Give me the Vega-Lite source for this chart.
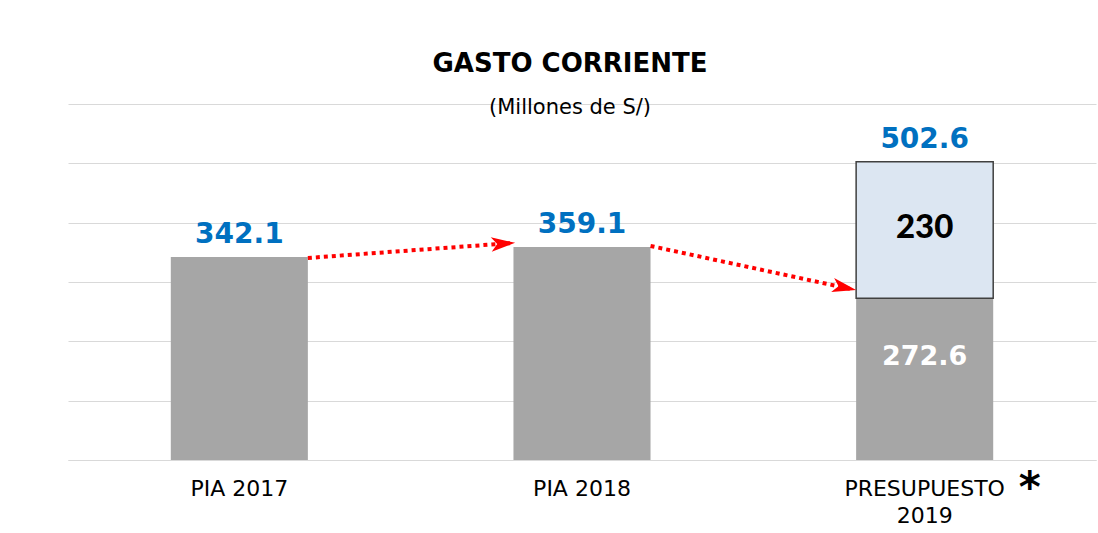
{
  "$schema": "https://vega.github.io/schema/vega-lite/v6.json",
  "width": 1028,
  "height": 356,
  "autosize": {"type": "none"},
  "padding": {"left": 68, "top": 104, "right": 2, "bottom": 73},
  "background": "white",
  "config": {"view": {"stroke": null}, "axisY": {"title": null}},
  "title": {
    "text": "GASTO CORRIENTE",
    "subtitle": "(Millones de S/)",
    "anchor": "middle",
    "frame": "group",
    "dx": -12,
    "offset": -14,
    "font": "DejaVu Sans",
    "fontSize": 26,
    "fontWeight": "bold",
    "color": "#000000",
    "subtitleFont": "DejaVu Sans",
    "subtitleFontSize": 21,
    "subtitleColor": "#000000",
    "subtitlePadding": 20
  },
  "datasets": {
    "bars": [
      {"cat": "PIA 2017", "y0": 0, "y1": 342.1},
      {"cat": "PIA 2018", "y0": 0, "y1": 359.1},
      {"cat": "PRESUPUESTO 2019", "y0": 0, "y1": 272.6}
    ],
    "extra": [
      {"cat": "PRESUPUESTO 2019", "y0": 272.6, "y1": 502.6, "lbl": "230"}
    ],
    "totals": [
      {"cat": "PIA 2017", "total": 342.1},
      {"cat": "PIA 2018", "total": 359.1},
      {"cat": "PRESUPUESTO 2019", "total": 502.6}
    ],
    "note": [
      {"cat": "PRESUPUESTO 2019", "v": 0, "t": "*"}
    ],
    "arrows": [
      {"arrow": 1, "xq": 0.70, "v": 340.5},
      {"arrow": 1, "xq": 1.29, "v": 365.5},
      {"arrow": 2, "xq": 1.70, "v": 360.7},
      {"arrow": 2, "xq": 2.29, "v": 287.5}
    ],
    "heads": [
      {"arrow": 1, "xq": 1.305, "v": 366},
      {"arrow": 2, "xq": 2.30, "v": 286.5}
    ]
  },
  "layer": [
    {
      "layer": [
        {
          "data": {"name": "bars"},
          "mark": {"type": "bar", "color": "#A6A6A6"},
          "encoding": {
            "x": {
              "field": "cat",
              "type": "nominal",
              "scale": {"domain": ["PIA 2017", "PIA 2018", "PRESUPUESTO 2019"], "paddingInner": 0.6, "paddingOuter": 0.3},
              "axis": {
                "title": null,
                "labelExpr": "datum.label == 'PRESUPUESTO 2019' ? ['PRESUPUESTO','2019'] : datum.label",
                "labelAngle": 0,
                "labelFont": "DejaVu Sans",
                "labelFontSize": 22,
                "labelColor": "#000000",
                "labelPadding": 18,
                "labelLineHeight": 27,
                "ticks": false,
                "domainColor": "#D9D9D9",
                "domainWidth": 1
              }
            },
            "y": {
              "field": "y0",
              "type": "quantitative",
              "title": null,
              "scale": {"domain": [0, 600], "nice": false},
              "axis": {
                "values": [0, 100, 200, 300, 400, 500, 600],
                "grid": true,
                "gridColor": "#D9D9D9",
                "gridWidth": 1,
                "labels": false,
                "ticks": false,
                "domain": false,
                "title": null
              }
            },
            "y2": {"field": "y1"}
          }
        },
        {
          "data": {"name": "extra"},
          "mark": {"type": "bar", "color": "#DCE6F2", "stroke": "#404040", "strokeWidth": 1.5},
          "encoding": {
            "x": {"field": "cat", "type": "nominal"},
            "y": {"field": "y0", "type": "quantitative", "title": null},
            "y2": {"field": "y1"}
          }
        },
        {
          "data": {"name": "totals"},
          "mark": {"type": "text", "font": "DejaVu Sans", "fontWeight": "bold", "fontSize": 28, "color": "#0070C0", "baseline": "alphabetic", "dy": -14},
          "encoding": {
            "x": {"field": "cat", "type": "nominal"},
            "y": {"field": "total", "type": "quantitative", "title": null},
            "text": {"field": "total", "type": "quantitative", "format": ".1f"}
          }
        },
        {
          "data": {"name": "extra"},
          "transform": [{"calculate": "(datum.y0 + datum.y1) / 2", "as": "mid"}],
          "mark": {"type": "text", "font": "Lato", "fontWeight": 900, "fontSize": 33, "color": "#000000", "baseline": "middle", "dy": -2},
          "encoding": {
            "x": {"field": "cat", "type": "nominal"},
            "y": {"field": "mid", "type": "quantitative", "title": null},
            "text": {"field": "lbl"}
          }
        },
        {
          "data": {"name": "bars"},
          "transform": [{"filter": "datum.cat == 'PRESUPUESTO 2019'"}],
          "mark": {"type": "text", "font": "DejaVu Sans", "fontWeight": "bold", "fontSize": 27, "color": "#FFFFFF", "baseline": "middle", "dy": 59},
          "encoding": {
            "x": {"field": "cat", "type": "nominal"},
            "y": {"field": "y1", "type": "quantitative", "title": null},
            "text": {"field": "y1", "type": "quantitative", "format": ".1f"}
          }
        },
        {
          "data": {"name": "note"},
          "mark": {"type": "text", "font": "DejaVu Sans", "fontWeight": "bold", "fontSize": 42, "color": "#000000", "baseline": "alphabetic", "dx": 105, "dy": 42},
          "encoding": {
            "x": {"field": "cat", "type": "nominal"},
            "y": {"field": "v", "type": "quantitative", "title": null},
            "text": {"field": "t"}
          }
        }
      ]
    },
    {
      "layer": [
        {
          "data": {"name": "arrows"},
          "mark": {"type": "line", "color": "#FF0000", "strokeWidth": 4, "strokeDash": [4, 4], "strokeCap": "butt"},
          "encoding": {
            "x": {"field": "xq", "type": "quantitative", "scale": {"domain": [0, 3], "nice": false, "zero": false}, "axis": null},
            "y": {"field": "v", "type": "quantitative", "title": null},
            "detail": {"field": "arrow"}
          }
        },
        {
          "data": {"name": "heads"},
          "transform": [{"filter": "datum.arrow == 1"}],
          "mark": {"type": "point", "filled": true, "opacity": 1, "color": "#FF0000", "shape": "M0,0 L-2,-0.6 L-1.5,0 L-2,0.6 Z", "size": 576, "angle": -4},
          "encoding": {
            "x": {"field": "xq", "type": "quantitative"},
            "y": {"field": "v", "type": "quantitative", "title": null}
          }
        },
        {
          "data": {"name": "heads"},
          "transform": [{"filter": "datum.arrow == 2"}],
          "mark": {"type": "point", "filled": true, "opacity": 1, "color": "#FF0000", "shape": "M0,0 L-2,-0.6 L-1.5,0 L-2,0.6 Z", "size": 576, "angle": 12},
          "encoding": {
            "x": {"field": "xq", "type": "quantitative"},
            "y": {"field": "v", "type": "quantitative", "title": null}
          }
        }
      ]
    }
  ],
  "resolve": {"scale": {"x": "independent"}}
}
